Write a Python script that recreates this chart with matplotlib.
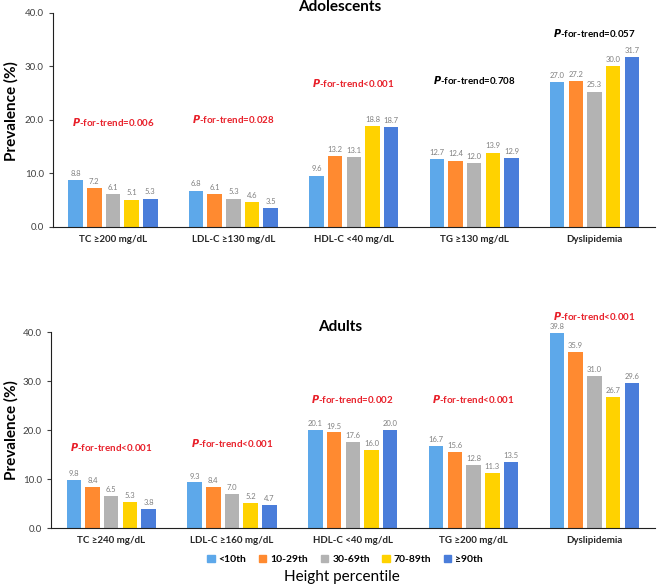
import numpy as np
import matplotlib
matplotlib.use('Agg')
import matplotlib.pyplot as plt
from matplotlib.patches import Patch

plt.rcParams['font.family'] = ['Lato', 'DejaVu Sans']
plt.rcParams['mathtext.fontset'] = 'dejavusans'

groups = ['<10th', '10-29th', '30-69th', '70-89th', '\u226590th']
colors = ['#5DA8EA', '#FF8A30', '#B3B3B3', '#FFD200', '#4A7DDA']

cats_ado = ['TC \u2265200 mg/dL', 'LDL-C \u2265130 mg/dL', 'HDL-C <40 mg/dL', 'TG \u2265130 mg/dL', 'Dyslipidemia']
cats_adu = ['TC \u2265240 mg/dL', 'LDL-C \u2265160 mg/dL', 'HDL-C <40 mg/dL', 'TG \u2265200 mg/dL', 'Dyslipidemia']

# rows = categories, cols = height percentile groups
ado = np.array([[8.8, 7.2, 6.1, 5.1, 5.3],
                [6.8, 6.1, 5.3, 4.6, 3.5],
                [9.6, 13.2, 13.1, 18.8, 18.7],
                [12.7, 12.4, 12.0, 13.9, 12.9],
                [27.0, 27.2, 25.3, 30.0, 31.7]])
adu = np.array([[9.8, 8.4, 6.5, 5.3, 3.8],
                [9.3, 8.4, 7.0, 5.2, 4.7],
                [20.1, 19.5, 17.6, 16.0, 20.0],
                [16.7, 15.6, 12.8, 11.3, 13.5],
                [39.8, 35.9, 31.0, 26.7, 29.6]])

p_ado = ['=0.006', '=0.028', '<0.001', '=0.708', '=0.057']
p_ado_y = [19.6, 20.2, 26.9, 27.5, 36.3]
p_ado_sig = [True, True, True, False, False]
p_adu = ['<0.001', '<0.001', '=0.002', '<0.001', '<0.001']
p_adu_y = [16.5, 17.3, 26.3, 26.3, 43.3]
p_adu_sig = [True, True, True, True, True]

fig = plt.figure(figsize=(6.6, 5.85), dpi=100)
ax1 = fig.add_axes([0.080, 0.612, 0.912, 0.366])
ax2 = fig.add_axes([0.077, 0.0974, 0.915, 0.335])

slot = 0.155
width = 0.12


def draw(ax, data, cats, ptxt, py, psig):
    x = np.arange(len(cats))
    for j in range(len(groups)):
        xs = x + (j - 2) * slot
        ax.bar(xs, data[:, j], width, color=colors[j], zorder=2)
        for xi, v in zip(xs, data[:, j]):
            ax.text(xi, v + 0.6, '%.1f' % v, ha='center', va='bottom',
                    fontsize=5.5, color='#808080')
    for xi, t, yy, s in zip(x, ptxt, py, psig):
        ax.text(xi, yy, r'$\mathbfit{P}$' + '-for-trend' + t, ha='center', va='center',
                fontsize=7, fontweight='bold', color='#E8202A' if s else 'black',
                clip_on=False)
    ax.set_xlim(-0.5, 4.5)
    ax.set_ylim(0, 40)
    ax.set_yticks([0, 10, 20, 30, 40])
    ax.set_yticklabels(['%.1f' % v for v in [0, 10, 20, 30, 40]])
    ax.set_xticks(x)
    ax.set_xticklabels(cats, fontsize=7, fontweight='bold', color='#262626')
    ax.tick_params(axis='x', length=0, pad=6)
    ax.tick_params(axis='y', labelsize=7, colors='#404040', length=3)
    for s in ['top', 'right']:
        ax.spines[s].set_visible(False)
    ax.spines['left'].set_color('#202020')
    ax.spines['bottom'].set_color('#202020')


draw(ax1, ado, cats_ado, p_ado, p_ado_y, p_ado_sig)
draw(ax2, adu, cats_adu, p_adu, p_adu_y, p_adu_sig)

fig.text(0.017, 0.81, 'Prevalence (%)', rotation=90, ha='center', va='center',
         fontsize=11, fontweight='bold')
fig.text(0.017, 0.265, 'Prevalence (%)', rotation=90, ha='center', va='center',
         fontsize=11, fontweight='bold')

fig.text(0.515, 0.988, 'Adolescents', ha='center', va='center', fontsize=11, fontweight='bold')
fig.text(0.515, 0.441, 'Adults', ha='center', va='center', fontsize=11, fontweight='bold')

handles = [Patch(color=c, label=g) for c, g in zip(colors, groups)]
fig.legend(handles=handles, loc='center', bbox_to_anchor=(0.523, 0.044), ncol=5,
           frameon=False, handlelength=0.7, handleheight=0.7,
           handletextpad=0.4, columnspacing=1.2, prop={'weight': 'bold', 'size': 7.5})
fig.text(0.518, 0.014, 'Height percentile', ha='center', va='center', fontsize=11)

fig.savefig('out.png', dpi=100)
